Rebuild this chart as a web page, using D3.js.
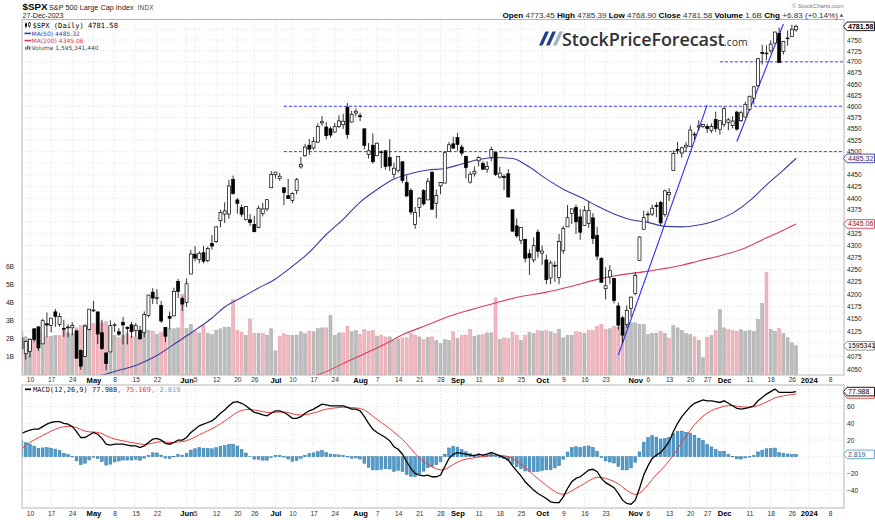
<!DOCTYPE html>
<html>
<head>
<meta charset="utf-8">
<title>$SPX S&amp;P 500 Large Cap Index</title>
<script src="https://cdn.jsdelivr.net/npm/d3@7/dist/d3.min.js"></script>
<style>
  body { margin: 0; background: #fff; }
  svg { display: block; font-family: "Liberation Sans", Arial, sans-serif; }
</style>
</head>
<body>
<svg id="chart" width="875" height="520"></svg>
<script>
// ---------- data ----------

// close of the session before the first bar (colours the first volume bar)
var prevClose = 4100.60;

// daily bars: [open, high, low, close, volume (billions)]
var apr = [
  [4112, 4113, 4073, 4090.38, 2.41], [4081, 4107, 4069, 4105.02, 2.09], [4085, 4110, 4073, 4109.11, 1.98],
  [4130, 4131, 4104, 4108.94, 1.94], [4134, 4134, 4086, 4091.95, 2.31], [4100, 4150, 4100, 4146.22, 2.17],
  [4140, 4163, 4113, 4137.64, 2.09], [4137, 4152, 4123, 4151.32, 2.13], [4164, 4170, 4134, 4154.87, 2.17],
  [4139, 4162, 4134, 4154.52, 2.17], [4131, 4148, 4114, 4129.79, 2.50], [4133, 4139, 4113, 4133.52, 2.31],
  [4132, 4143, 4117, 4137.04, 2.26], [4126, 4127, 4071, 4071.63, 2.59], [4087, 4089, 4049, 4055.99, 2.72],
  [4075, 4138, 4075, 4135.35, 2.78], [4129, 4170, 4127, 4169.48, 2.65]
];
var may = [
  [4166, 4186, 4164, 4167.87, 2.83], [4164, 4164, 4100, 4119.58, 2.68], [4122, 4148, 4088, 4090.75, 2.87],
  [4082, 4083, 4048, 4061.22, 2.93], [4084, 4147, 4084, 4136.25, 2.68], [4137, 4142, 4124, 4138.12, 2.17],
  [4124, 4131, 4116, 4119.17, 2.04], [4143, 4154, 4099, 4137.64, 2.17], [4133, 4135, 4099, 4130.62, 2.26],
  [4138, 4144, 4112, 4124.08, 2.13], [4127, 4142, 4114, 4136.28, 2.09], [4127, 4136, 4109, 4109.90, 2.22],
  [4122, 4165, 4113, 4158.77, 2.41], [4157, 4198, 4153, 4198.05, 2.46], [4204, 4212, 4180, 4191.98, 2.41],
  [4191, 4210, 4180, 4192.63, 2.22], [4177, 4186, 4142, 4145.58, 2.35], [4133, 4133, 4104, 4115.24, 2.31],
  [4155, 4165, 4129, 4151.28, 2.54], [4156, 4213, 4155, 4205.45, 2.54], [4226, 4231, 4192, 4205.52, 2.59],
  [4191, 4195, 4166, 4179.83, 4.44]
];
var jun = [
  [4183, 4232, 4174, 4221.02, 2.55], [4241, 4291, 4241, 4282.37, 2.78], [4282, 4299, 4267, 4273.79, 2.46],
  [4271, 4288, 4263, 4283.85, 2.31], [4285, 4299, 4263, 4267.52, 2.72], [4269, 4298, 4265, 4293.93, 2.28],
  [4304, 4322, 4291, 4298.86, 2.22], [4308, 4340, 4305, 4338.93, 2.46], [4352, 4375, 4338, 4369.01, 2.54],
  [4366, 4391, 4347, 4372.59, 2.63], [4366, 4439, 4356, 4425.84, 2.63], [4440, 4448, 4407, 4409.59, 4.17],
  [4396, 4400, 4367, 4388.71, 2.44], [4380, 4386, 4360, 4365.69, 2.35], [4355, 4382, 4352, 4381.89, 2.17],
  [4354, 4366, 4341, 4348.33, 3.09], [4344, 4362, 4328, 4328.82, 2.28], [4338, 4384, 4336, 4378.41, 2.28],
  [4367, 4390, 4361, 4376.86, 2.28], [4377, 4398, 4372, 4396.44, 2.17], [4422, 4458, 4422, 4450.38, 2.54]
];
var jul = [
  [4450, 4456, 4442, 4455.59, 1.31], [4442, 4454, 4437, 4446.82, 2.13], [4422, 4423, 4385, 4411.59, 2.26],
  [4405, 4441, 4398, 4398.95, 2.19], [4395, 4412, 4389, 4409.53, 2.17], [4416, 4443, 4408, 4439.26, 2.19],
  [4467, 4488, 4463, 4472.16, 2.37], [4491, 4517, 4489, 4510.04, 2.26], [4514, 4528, 4493, 4505.42, 2.41],
  [4508, 4532, 4504, 4522.79, 2.37], [4521, 4562, 4519, 4554.98, 2.55], [4563, 4578, 4557, 4565.72, 2.59],
  [4554, 4565, 4527, 4534.87, 2.59], [4550, 4555, 4531, 4536.34, 3.28], [4543, 4563, 4541, 4554.64, 2.17],
  [4555, 4580, 4552, 4567.46, 2.31], [4559, 4583, 4550, 4566.75, 2.31], [4598, 4607, 4528, 4537.41, 2.68],
  [4565, 4590, 4564, 4582.23, 2.37], [4585, 4595, 4577, 4588.96, 2.44]
];
var aug = [
  [4579, 4585, 4567, 4576.73, 2.22], [4550, 4551, 4505, 4513.39, 2.50], [4494, 4519, 4485, 4501.89, 2.41],
  [4514, 4540, 4474, 4478.03, 2.44], [4491, 4520, 4491, 4518.44, 2.13], [4498, 4503, 4464, 4499.38, 2.19],
  [4502, 4502, 4461, 4467.71, 2.09], [4487, 4527, 4458, 4468.83, 2.09], [4451, 4476, 4443, 4464.05, 1.89],
  [4459, 4490, 4454, 4489.72, 1.98], [4478, 4478, 4432, 4437.86, 2.04], [4433, 4449, 4403, 4404.33, 2.04],
  [4416, 4421, 4365, 4370.36, 2.28], [4344, 4381, 4335, 4369.71, 2.19], [4380, 4401, 4360, 4399.77, 2.09],
  [4416, 4419, 4384, 4387.55, 1.94], [4396, 4443, 4396, 4436.01, 2.07], [4455, 4458, 4375, 4376.31, 2.09],
  [4389, 4418, 4357, 4405.71, 1.89], [4426, 4434, 4408, 4433.31, 1.72], [4432, 4501, 4432, 4497.63, 1.94],
  [4500, 4521, 4500, 4514.87, 1.89], [4517, 4532, 4507, 4507.66, 2.37]
];
var sep = [
  [4531, 4541, 4502, 4515.77, 2.00], [4510, 4515, 4491, 4496.83, 2.17], [4490, 4490, 4442, 4465.48, 2.19],
  [4434, 4457, 4431, 4451.14, 2.50], [4452, 4468, 4446, 4457.49, 2.13], [4480, 4490, 4468, 4487.46, 2.19],
  [4474, 4479, 4460, 4461.90, 2.22], [4462, 4479, 4454, 4467.44, 2.31], [4487, 4511, 4479, 4505.10, 2.31],
  [4498, 4498, 4447, 4450.32, 4.26], [4445, 4467, 4442, 4453.53, 1.94], [4446, 4451, 4417, 4443.95, 2.04],
  [4452, 4462, 4402, 4402.20, 2.00], [4375, 4376, 4329, 4330.00, 2.35], [4341, 4357, 4316, 4320.06, 2.19],
  [4311, 4338, 4303, 4337.44, 1.91], [4313, 4313, 4265, 4273.53, 2.17], [4283, 4292, 4239, 4274.51, 2.35],
  [4270, 4317, 4265, 4299.70, 2.28], [4328, 4334, 4275, 4288.05, 2.44]
];
var oct = [
  [4284, 4300, 4260, 4288.39, 2.41], [4270, 4281, 4220, 4229.45, 2.44], [4233, 4269, 4220, 4263.75, 2.37],
  [4259, 4267, 4225, 4258.19, 2.28], [4234, 4324, 4220, 4308.50, 2.52], [4289, 4341, 4283, 4335.66, 2.04],
  [4339, 4385, 4339, 4358.24, 2.17], [4367, 4378, 4345, 4376.95, 2.17], [4380, 4386, 4324, 4349.61, 2.37],
  [4360, 4377, 4312, 4327.78, 2.35], [4342, 4383, 4342, 4373.63, 2.28], [4346, 4394, 4337, 4373.20, 2.44],
  [4358, 4368, 4303, 4314.60, 2.44], [4321, 4339, 4270, 4278.00, 2.68], [4273, 4276, 4223, 4224.16, 2.78],
  [4211, 4255, 4189, 4217.04, 2.50], [4235, 4259, 4220, 4247.68, 2.54], [4232, 4232, 4181, 4186.77, 2.68],
  [4176, 4183, 4128, 4137.23, 2.63], [4152, 4156, 4103, 4117.37, 2.40], [4139, 4177, 4132, 4166.82, 2.80],
  [4171, 4195, 4154, 4193.80, 2.87]
];
var nov = [
  [4201, 4245, 4198, 4237.86, 2.87], [4269, 4319, 4269, 4317.78, 2.80], [4334, 4373, 4334, 4358.34, 2.78],
  [4365, 4372, 4348, 4365.98, 2.22], [4366, 4386, 4362, 4378.38, 2.28], [4384, 4391, 4359, 4382.78, 2.30],
  [4391, 4394, 4343, 4347.35, 2.40], [4365, 4418, 4360, 4415.24, 2.28], [4407, 4421, 4394, 4411.55, 2.00],
  [4459, 4503, 4459, 4495.70, 2.72], [4505, 4521, 4495, 4502.88, 2.59], [4497, 4511, 4487, 4508.24, 2.44],
  [4510, 4521, 4500, 4514.02, 2.28], [4511, 4557, 4511, 4547.38, 2.22], [4538, 4543, 4526, 4538.19, 2.09],
  [4554, 4569, 4546, 4556.62, 1.89], [4555, 4560, 4552, 4559.34, 0.93], [4555, 4561, 4541, 4550.43, 2.07],
  [4546, 4562, 4541, 4554.89, 2.16], [4571, 4588, 4543, 4550.58, 2.44], [4549, 4569, 4537, 4567.80, 3.60]
];
var dec = [
  [4560, 4599, 4554, 4594.63, 2.59], [4564, 4574, 4547, 4569.78, 2.50], [4557, 4578, 4551, 4567.18, 2.44],
  [4587, 4590, 4546, 4549.34, 2.40], [4568, 4590, 4565, 4585.59, 2.50], [4576, 4610, 4575, 4604.37, 2.40],
  [4593, 4623, 4590, 4622.44, 2.44], [4618, 4644, 4604, 4643.70, 2.40], [4646, 4709, 4643, 4707.09, 3.06],
  [4721, 4739, 4694, 4719.55, 3.94], [4720, 4738, 4704, 4719.19, 5.68], [4725, 4749, 4721, 4740.56, 2.50],
  [4743, 4769, 4743, 4768.37, 2.40], [4765, 4779, 4697, 4698.35, 2.56], [4724, 4748, 4717, 4746.75, 2.28],
  [4753, 4772, 4737, 4754.63, 2.04], [4758, 4785, 4758, 4774.75, 1.76], [4773.45, 4785.39, 4768.90, 4781.58, 1.595]
];

// MACD(12,26,9) line and its signal line, one value per bar
var macdLine = [
  28, 30, 32, 33, 33, 36, 39, 41, 42, 42, 40, 39, 36, 30, 23, 23, 26, 29, 27, 22,
  15, 14, 15, 15, 15, 14, 13, 13, 11, 13, 17, 21, 22, 20, 16, 15, 17, 20, 20, 23,
  29, 33, 37, 39, 41, 43, 47, 52, 56, 61, 65, 66, 64, 61, 57, 53, 52, 50, 49, 52,
  55, 55, 53, 50, 46, 46, 48, 52, 55, 57, 60, 63, 62, 61, 61, 61, 61, 59, 57, 57,
  55, 48, 40, 33, 29, 26, 23, 19, 12, 9, 3, -6, -14, -20, -22, -23, -22, -24, -24, -22,
  -12, -2, 3, 5, 4, 3, 2, 1, 3, 2, 3, 5, 3, 1, -1, -4, -11, -17, -23, -30,
  -35, -40, -44, -47, -50, -54, -55, -55, -48, -38, -30, -26, -24, -20, -16, -15, -18, -26, -31, -34,
  -37, -44, -52, -56, -57, -52, -38, -22, -11, -2, 2, 5, 11, 18, 30, 40, 48, 54, 60, 64,
  66, 68, 67, 67, 66, 65, 67, 64, 61, 58, 57, 58, 59, 61, 67, 71, 75, 78, 81, 77,
  77, 77, 77, 77.988
];
var signalLine = [
  9, 13.2, 17, 20.2, 22.8, 25.4, 28.1, 30.7, 32.9, 34.7, 35.8, 36.4, 36.3, 35, 32.6, 30.7, 29.8, 29.6, 29.1, 27.7,
  25.1, 22.9, 21.3, 20.1, 19, 18, 17, 16.2, 15.2, 14.7, 15.2, 16.3, 17.5, 18, 17.6, 17.1, 17.1, 17.6, 18.1, 19.1,
  21.1, 23.5, 26.2, 28.7, 31.2, 33.5, 36.2, 39.4, 42.7, 46.3, 50.1, 53.3, 55.4, 56.5, 56.6, 55.9, 55.1, 54.1, 53.1, 52.9,
  53.3, 53.6, 53.5, 52.8, 51.4, 50.4, 49.9, 50.3, 51.2, 52.4, 53.9, 55.7, 57, 57.8, 58.4, 58.9, 59.4, 59.3, 58.8, 58.5,
  57.8, 55.8, 52.7, 48.7, 44.8, 41, 37.4, 33.7, 29.4, 25.3, 20.8, 15.5, 9.6, 3.7, -1.4, -5.7, -9, -12, -14.4, -15.9,
  -15.1, -12.5, -9.4, -6.5, -4.4, -2.9, -1.9, -1.3, -0.4, 0.1, 0.7, 1.6, 1.8, 1.7, 1.1, 0.1, -2.1, -5.1, -8.7, -12.9,
  -17.3, -21.9, -26.3, -30.4, -34.4, -38.3, -41.6, -44.3, -45, -43.6, -40.9, -37.9, -35.1, -32.1, -28.9, -26.1, -24.5, -24.8, -26, -27.6,
  -29.5, -32.4, -36.3, -40.2, -43.6, -45.3, -43.8, -39.5, -33.8, -27.4, -21.5, -16.2, -10.8, -5, 2, 9.6, 17.3, 24.6, 31.7, 38.2,
  43.7, 48.6, 52.3, 55.2, 57.4, 58.9, 60.5, 61.2, 61.2, 60.5, 59.8, 59.5, 59.4, 59.7, 61.2, 63.1, 65.5, 68, 70.6, 71.9,
  72.9, 73.7, 74.4, 75.169
];

// moving averages, read at a few dates
var ma50 = [
  ["2023-04-05", 3985], ["2023-04-20", 4015], ["2023-05-03", 4038], ["2023-05-08", 4045.6], ["2023-05-15", 4057.4],
  ["2023-05-22", 4077], ["2023-05-30", 4104.6], ["2023-06-02", 4121.6], ["2023-06-09", 4151.6], ["2023-06-14", 4173.8],
  ["2023-06-21", 4193], ["2023-06-27", 4212.3], ["2023-07-03", 4231], ["2023-07-10", 4257], ["2023-07-14", 4286],
  ["2023-07-20", 4323], ["2023-07-26", 4355], ["2023-08-01", 4391.5], ["2023-08-07", 4418.2], ["2023-08-11", 4440.7],
  ["2023-08-17", 4452.6], ["2023-08-23", 4460.1], ["2023-08-29", 4463.4], ["2023-09-05", 4473.1], ["2023-09-11", 4482.9],
  ["2023-09-15", 4487.3], ["2023-09-21", 4485.1], ["2023-09-27", 4466.6], ["2023-10-03", 4441], ["2023-10-09", 4419],
  ["2023-10-13", 4402], ["2023-10-19", 4383], ["2023-10-25", 4366], ["2023-10-31", 4354], ["2023-11-06", 4348.5],
  ["2023-11-10", 4340], ["2023-11-16", 4339], ["2023-11-22", 4343], ["2023-11-29", 4352], ["2023-12-05", 4368],
  ["2023-12-11", 4394], ["2023-12-15", 4428], ["2023-12-21", 4460], ["2023-12-27", 4485.32]
];
var ma200 = [
  ["2023-04-05", 3975], ["2023-06-02", 4000], ["2023-07-03", 4022], ["2023-07-18", 4039], ["2023-07-28", 4069],
  ["2023-08-09", 4100], ["2023-08-15", 4118], ["2023-08-23", 4138], ["2023-08-30", 4155], ["2023-09-07", 4168],
  ["2023-09-15", 4182], ["2023-09-25", 4195], ["2023-10-03", 4204], ["2023-10-11", 4216], ["2023-10-19", 4230],
  ["2023-10-25", 4237], ["2023-11-06", 4247], ["2023-11-16", 4259], ["2023-11-22", 4268], ["2023-12-01", 4281],
  ["2023-12-08", 4295], ["2023-12-15", 4316], ["2023-12-21", 4332], ["2023-12-27", 4345.06]
];

// annotations: dashed levels and trend lines
var levels = [
  { price: 4700, from: "2023-11-30" },
  { price: 4600, from: "2023-07-06" },
  { price: 4500, from: "2023-07-06" }
];
var trendLines = [
  [["2023-10-26", 4078], ["2023-11-27", 4603]],
  [["2023-12-06", 4522], ["2023-12-21", 4787]]
];

// axis labels
var dateTicks = [
  ["2023-04-10", "10"], ["2023-04-17", "17"], ["2023-04-24", "24"], ["2023-05-01", "May"], ["2023-05-08", "8"],
  ["2023-05-15", "15"], ["2023-05-22", "22"], ["2023-06-01", "Jun"], ["2023-06-05", "5"], ["2023-06-12", "12"],
  ["2023-06-20", "20"], ["2023-06-26", "26"], ["2023-07-03", "Jul"], ["2023-07-10", "10"], ["2023-07-17", "17"],
  ["2023-07-24", "24"], ["2023-08-01", "Aug"], ["2023-08-07", "7"], ["2023-08-14", "14"], ["2023-08-21", "21"],
  ["2023-08-28", "28"], ["2023-09-01", "Sep"], ["2023-09-11", "11"], ["2023-09-18", "18"], ["2023-09-25", "25"],
  ["2023-10-02", "Oct"], ["2023-10-09", "9"], ["2023-10-16", "16"], ["2023-10-23", "23"], ["2023-11-01", "Nov"],
  ["2023-11-06", "6"], ["2023-11-13", "13"], ["2023-11-20", "20"], ["2023-11-27", "27"], ["2023-12-01", "Dec"],
  ["2023-12-11", "11"], ["2023-12-18", "18"], ["2023-12-26", "26"], ["2024-01-01", "2024"], ["2024-01-08", "8"]
];
var priceTicks = d3.range(4050, 4776, 25);
var volumeTicks = [1, 2, 3, 4, 5, 6];
var macdTicks = [-40, -20, 0, 20, 40, 60, 80];
var holidays = ["2023-04-07", "2023-05-29", "2023-06-19", "2023-07-04", "2023-09-04", "2023-11-23", "2023-12-25"];

// ---------- calendar: trading days, then the empty weekdays to the right ----------
var fmt = d3.utcFormat("%Y-%m-%d");
var days = d3.utcDays(new Date(Date.UTC(2023, 3, 5)), new Date(Date.UTC(2024, 0, 13)))
  .filter(d => d.getUTCDay() > 0 && d.getUTCDay() < 6)
  .map(fmt)
  .filter(s => holidays.indexOf(s) < 0);
var dayIndex = {};
days.forEach((s, i) => { dayIndex[s] = i; });

var bars = [].concat(apr, may, jun, jul, aug, sep, oct, nov, dec).map(function(r, i) {
  return { i: i, o: r[0], h: r[1], l: r[2], c: r[3], v: r[4] };
});
bars.forEach(function(d, i) { d.prev = i ? bars[i - 1].c : prevClose; });

var macdData = macdLine.map(function(m, i) {
  return { i: i, macd: m, signal: signalLine[i], hist: m - signalLine[i] };
});

// ---------- layout ----------
var svg = d3.select("#chart");
var panelLeft = 22, panelRight = 844;
var priceTop = 19.5, priceBottom = 375;
var macdTop = 385, macdBottom = 508;

var xScale = d3.scaleLinear().domain([0, 194.2]).range([21.5, 843.5]);
var yPrice = d3.scaleLog().domain([4750, 4050]).range([40, 369.2]);
var yVol = d3.scaleLinear().domain([0, 6]).range([374.5, 266.5]);
var yMacd = d3.scaleLinear().domain([-61.4, 85.9]).range([macdBottom, macdTop]);

var last = bars[bars.length - 1];
var lastMacd = macdData[macdData.length - 1];

// right-edge value tags (the axis labels they cover are left out)
var priceTags = [
  { y: yPrice(last.c), label: d3.format(".2f")(last.c), stroke: "#000", color: "#000", bold: true },
  { y: yPrice(ma50[ma50.length - 1][1]), label: "4485.32", stroke: "#3a3aa6", color: "#2a2a80" },
  { y: yPrice(ma200[ma200.length - 1][1]), label: "4345.06", stroke: "#dc3c5a", color: "#7a1020" },
  { y: yVol(last.v), label: "1595341", stroke: "#888", color: "#000" }
];
var macdTags = [
  { y: yMacd(lastMacd.signal), label: "", stroke: "#f23a3a", color: "#000" },
  { y: yMacd(lastMacd.macd), label: "77.988", stroke: "#000", color: "#000" },
  { y: yMacd(lastMacd.hist), label: "2.819", stroke: "#5a9fd0", color: "#2a5f90" }
];
function freeOf(tags, scale) {
  return function(t) { return tags.every(g => Math.abs(scale(t) - g.y) > 6.2); };
}

var defs = svg.append("defs");
defs.append("clipPath").attr("id", "clipPrice").append("rect")
  .attr("x", panelLeft).attr("y", priceTop)
  .attr("width", panelRight - panelLeft).attr("height", priceBottom - priceTop);
defs.append("clipPath").attr("id", "clipMacd").append("rect")
  .attr("x", panelLeft).attr("y", macdTop)
  .attr("width", panelRight - panelLeft).attr("height", macdBottom - macdTop);

var tickIdx = dateTicks.map(d => dayIndex[d[0]]);
var tickLabel = {};
dateTicks.forEach(d => { tickLabel[dayIndex[d[0]]] = d[1]; });

// dotted grid for one panel
function drawGrid(top, bottom, yValues, yScale) {
  var g = svg.append("g")
    .attr("stroke", "#d2d2d2")
    .attr("stroke-width", 0.7)
    .attr("stroke-dasharray", "1,2");
  g.selectAll(".gv").data(tickIdx).enter().append("line")
    .attr("x1", d => xScale(d)).attr("x2", d => xScale(d))
    .attr("y1", top).attr("y2", bottom);
  g.selectAll(".gh").data(yValues).enter().append("line")
    .attr("x1", panelLeft).attr("x2", panelRight)
    .attr("y1", d => yScale(d)).attr("y2", d => yScale(d));
}
drawGrid(priceTop, priceBottom, priceTicks, yPrice);
drawGrid(macdTop, macdBottom, macdTicks, yMacd);

// ---------- watermark ----------
var wm = svg.append("g");
["#22408a", "#22408a", "#a3b2c8"].forEach(function(col, k) {
  var x0 = 539 + k * 7;
  wm.append("polygon")
    .attr("points", [[x0, 45.5], [x0 + 3.6, 45.5], [x0 + 10, 31.5], [x0 + 6.4, 31.5]].join(" "))
    .attr("fill", col);
});
wm.append("text")
  .attr("x", 562).attr("y", 45.5)
  .attr("font-family", "'Open Sans', 'Noto Sans', sans-serif")
  .attr("font-weight", 600)
  .attr("font-size", 18)
  .attr("letter-spacing", -0.1)
  .attr("fill", "#333")
  .text("StockPriceForecast");
wm.append("text")
  .attr("x", 724).attr("y", 45.5)
  .attr("font-family", "'Open Sans', 'Noto Sans', sans-serif")
  .attr("font-size", 10.5)
  .attr("fill", "#333")
  .text(".com");

// ---------- price panel ----------
var priceG = svg.append("g").attr("clip-path", "url(#clipPrice)");

// volume bars behind the price
priceG.append("g").selectAll("rect").data(bars).enter().append("rect")
  .attr("x", d => xScale(d.i) - 1.5)
  .attr("width", 3)
  .attr("y", d => yVol(d.v))
  .attr("height", d => yVol(0) - yVol(d.v))
  .attr("fill", d => d.c < d.prev ? "#f1b7be" : "#bcbcbc")
  .attr("stroke", d => d.c < d.prev ? "#e29aa3" : "#a6a6a6")
  .attr("stroke-width", 0.5);

// moving averages
var maLine = d3.line()
  .x(d => xScale(dayIndex[d[0]]))
  .y(d => yPrice(d[1]))
  .curve(d3.curveMonotoneX);
priceG.append("path").datum(ma200)
  .attr("d", maLine).attr("fill", "none")
  .attr("stroke", "#dc3c5a").attr("stroke-width", 1.1);
priceG.append("path").datum(ma50)
  .attr("d", maLine).attr("fill", "none")
  .attr("stroke", "#3a3aa6").attr("stroke-width", 1.1);

// dashed levels
priceG.append("g").selectAll("line").data(levels).enter().append("line")
  .attr("x1", d => xScale(dayIndex[d.from]))
  .attr("x2", panelRight)
  .attr("y1", d => yPrice(d.price)).attr("y2", d => yPrice(d.price))
  .attr("stroke", "#3b3bff")
  .attr("stroke-width", 1)
  .attr("stroke-dasharray", "3,2");

// trend lines
priceG.append("g").selectAll("line").data(trendLines).enter().append("line")
  .attr("x1", d => xScale(dayIndex[d[0][0]])).attr("y1", d => yPrice(d[0][1]))
  .attr("x2", d => xScale(dayIndex[d[1][0]])).attr("y2", d => yPrice(d[1][1]))
  .attr("stroke", "#2c2cf5")
  .attr("stroke-width", 1.1);

// candlesticks
var candles = priceG.append("g").selectAll("g").data(bars).enter().append("g");
candles.append("line")
  .attr("x1", d => xScale(d.i)).attr("x2", d => xScale(d.i))
  .attr("y1", d => yPrice(d.h)).attr("y2", d => yPrice(d.l))
  .attr("stroke", "#000").attr("stroke-width", 0.8);
candles.append("rect")
  .attr("x", d => xScale(d.i) - 1.5)
  .attr("width", 3)
  .attr("y", d => yPrice(Math.max(d.o, d.c)))
  .attr("height", d => Math.max(0.8, yPrice(Math.min(d.o, d.c)) - yPrice(Math.max(d.o, d.c))))
  .attr("fill", d => d.c >= d.o ? "#fff" : "#000")
  .attr("stroke", "#000")
  .attr("stroke-width", 0.7);

// ---------- MACD panel ----------
var macdG = svg.append("g").attr("clip-path", "url(#clipMacd)");
macdG.append("g").selectAll("rect").data(macdData).enter().append("rect")
  .attr("x", d => xScale(d.i) - 1.4)
  .attr("width", 2.8)
  .attr("y", d => yMacd(Math.max(0, d.hist)))
  .attr("height", d => Math.abs(yMacd(0) - yMacd(d.hist)))
  .attr("fill", "#4f9dcc")
  .attr("stroke", "#2f75a3")
  .attr("stroke-width", 0.5);
macdG.append("path").datum(macdData)
  .attr("d", d3.line().x(d => xScale(d.i)).y(d => yMacd(d.signal)))
  .attr("fill", "none").attr("stroke", "#f23a3a").attr("stroke-width", 1);
macdG.append("path").datum(macdData)
  .attr("d", d3.line().x(d => xScale(d.i)).y(d => yMacd(d.macd)))
  .attr("fill", "none").attr("stroke", "#000").attr("stroke-width", 1.3);

// panel borders
[[priceTop, priceBottom], [macdTop, macdBottom]].forEach(function(p) {
  svg.append("rect")
    .attr("x", panelLeft).attr("y", p[0])
    .attr("width", panelRight - panelLeft).attr("height", p[1] - p[0])
    .attr("fill", "none").attr("stroke", "#b5b5b5").attr("stroke-width", 1);
});

// ---------- axes ----------
function styleAxis(g) {
  g.select(".domain").remove();
  g.selectAll("text").attr("font-size", 6.6).attr("fill", "#222")
    .attr("font-family", "'Liberation Sans', Arial, sans-serif");
}
function dateAxis(yPos) {
  var g = svg.append("g")
    .attr("transform", `translate(0, ${yPos})`)
    .call(d3.axisBottom(xScale).tickValues(tickIdx).tickFormat(i => tickLabel[i]).tickSize(0).tickPadding(0));
  styleAxis(g);
  g.selectAll("text")
    .attr("fill", "#333")
    .each(function(i) {
      var lab = tickLabel[i];
      if (isNaN(+lab) || lab.length === 4) {
        d3.select(this).attr("font-weight", "bold").attr("font-size", 7.6).attr("fill", "#000");
      }
    });
}
dateAxis(377.5);
dateAxis(511);

styleAxis(svg.append("g")
  .attr("transform", `translate(847, 0)`)
  .call(d3.axisRight(yPrice).tickValues(priceTicks.filter(freeOf(priceTags, yPrice)))
    .tickFormat(d3.format("d")).tickSize(0).tickPadding(0)));

styleAxis(svg.append("g")
  .attr("transform", `translate(14, 0)`)
  .call(d3.axisLeft(yVol).tickValues(volumeTicks).tickFormat(d => d + "B").tickSize(0).tickPadding(0)));

styleAxis(svg.append("g")
  .attr("transform", `translate(847, 0)`)
  .call(d3.axisRight(yMacd).tickValues(macdTicks.filter(freeOf(macdTags, yMacd)))
    .tickFormat(d3.format("d")).tickSize(0).tickPadding(0)));

// value tags on the right edge
function valueTag(t) {
  var g = svg.append("g");
  g.append("path")
    .attr("d", `M843.5,${t.y} L847,${t.y - 4.3} H874.5 V${t.y + 4.3} H847 Z`)
    .attr("fill", "#fff").attr("stroke", t.stroke).attr("stroke-width", 0.9);
  if (t.label) {
    g.append("text")
      .attr("x", 848).attr("y", t.y).attr("dy", "0.35em")
      .attr("font-size", 7)
      .attr("font-weight", t.bold ? "bold" : "normal")
      .attr("fill", t.color)
      .text(t.label);
  }
}
priceTags.forEach(valueTag);
macdTags.forEach(valueTag);

// ---------- legends ----------
var leg = svg.append("g");
// candle icon
leg.append("line").attr("x1", 26).attr("x2", 26).attr("y1", 22.5).attr("y2", 28).attr("stroke", "#000").attr("stroke-width", 0.8);
leg.append("rect").attr("x", 25).attr("y", 23.5).attr("width", 2).attr("height", 3).attr("fill", "#000");
leg.append("line").attr("x1", 29.5).attr("x2", 29.5).attr("y1", 22).attr("y2", 27.5).attr("stroke", "#000").attr("stroke-width", 0.8);
leg.append("rect").attr("x", 28.5).attr("y", 23).attr("width", 2).attr("height", 3).attr("fill", "#fff").attr("stroke", "#000").attr("stroke-width", 0.6);
leg.append("text").attr("x", 32.5).attr("y", 27.6)
  .attr("font-family", "'DejaVu Sans Mono', monospace").attr("font-size", 7.1).attr("fill", "#000")
  .text("$SPX (Daily) 4781.58");
leg.append("line").attr("x1", 24.5).attr("x2", 31).attr("y1", 33.4).attr("y2", 33.4).attr("stroke", "#3a3aa6").attr("stroke-width", 1.6);
leg.append("text").attr("x", 31.5).attr("y", 35.6)
  .attr("font-family", "'DejaVu Sans', sans-serif").attr("font-size", 6).attr("fill", "#3a3aa6")
  .text("MA(50) 4485.32");
leg.append("line").attr("x1", 24.5).attr("x2", 31).attr("y1", 40.6).attr("y2", 40.6).attr("stroke", "#dc3c5a").attr("stroke-width", 1.6);
leg.append("text").attr("x", 31.5).attr("y", 42.8)
  .attr("font-family", "'DejaVu Sans', sans-serif").attr("font-size", 6).attr("fill", "#dc3c5a")
  .text("MA(200) 4345.06");
[[25, 2.5], [27, 4], [29, 3]].forEach(function(b) {
  leg.append("rect").attr("x", b[0]).attr("y", 49.6 - b[1]).attr("width", 1.5).attr("height", b[1]).attr("fill", "#666");
});
leg.append("text").attr("x", 31.5).attr("y", 49.8)
  .attr("font-family", "'DejaVu Sans', sans-serif").attr("font-size", 5.9).attr("fill", "#444")
  .text("Volume 1,595,341,440");

// MACD legend
leg.append("line").attr("x1", 25).attr("x2", 31).attr("y1", 389.3).attr("y2", 389.3).attr("stroke", "#000").attr("stroke-width", 1.6);
var mt = leg.append("text").attr("x", 33).attr("y", 391.8)
  .attr("font-family", "'DejaVu Sans Mono', monospace").attr("font-size", 7);
mt.append("tspan").attr("fill", "#222").text("MACD(12,26,9) 77.988");
mt.append("tspan").attr("fill", "#f23a3a").text(", 75.169");
mt.append("tspan").attr("fill", "#5aa5d5").text(", 2.819");

// ---------- header ----------
var head = svg.append("g");
head.append("text").attr("x", 22.5).attr("y", 10.3)
  .attr("font-weight", "bold").attr("font-size", 9.8).attr("fill", "#000").text("$SPX");
head.append("text").attr("x", 49).attr("y", 10.3)
  .attr("font-size", 7.3).attr("fill", "#222").text("S&P 500 Large Cap Index");
head.append("text").attr("x", 137.5).attr("y", 10.3)
  .attr("font-size", 6.3).attr("fill", "#444").attr("letter-spacing", 0.3).text("INDX");
head.append("text").attr("x", 22.5).attr("y", 18)
  .attr("font-size", 7.1).attr("fill", "#222").text("27-Dec-2023");
head.append("text").attr("x", 843.5).attr("y", 8.2).attr("text-anchor", "end")
  .attr("font-size", 6).attr("fill", "#777").text("\u00a9 StockCharts.com");

var quote = head.append("text").attr("x", 838).attr("y", 17.6).attr("text-anchor", "end").attr("font-size", 8.1);
[["Open ", "4773.45 "], ["High ", "4785.39 "], ["Low ", "4768.90 "], ["Close ", "4781.58 "],
 ["Volume ", "1.6B "], ["Chg ", "+6.83 (+0.14%)"]].forEach(function(p) {
  quote.append("tspan").attr("font-weight", "bold").attr("fill", "#000").text(p[0]);
  quote.append("tspan").attr("fill", "#333").text(p[1]);
});
head.append("path").attr("d", "M839.5,16.8 L843.5,16.8 L841.5,13.8 Z").attr("fill", "#555");
</script>
</body>
</html>
